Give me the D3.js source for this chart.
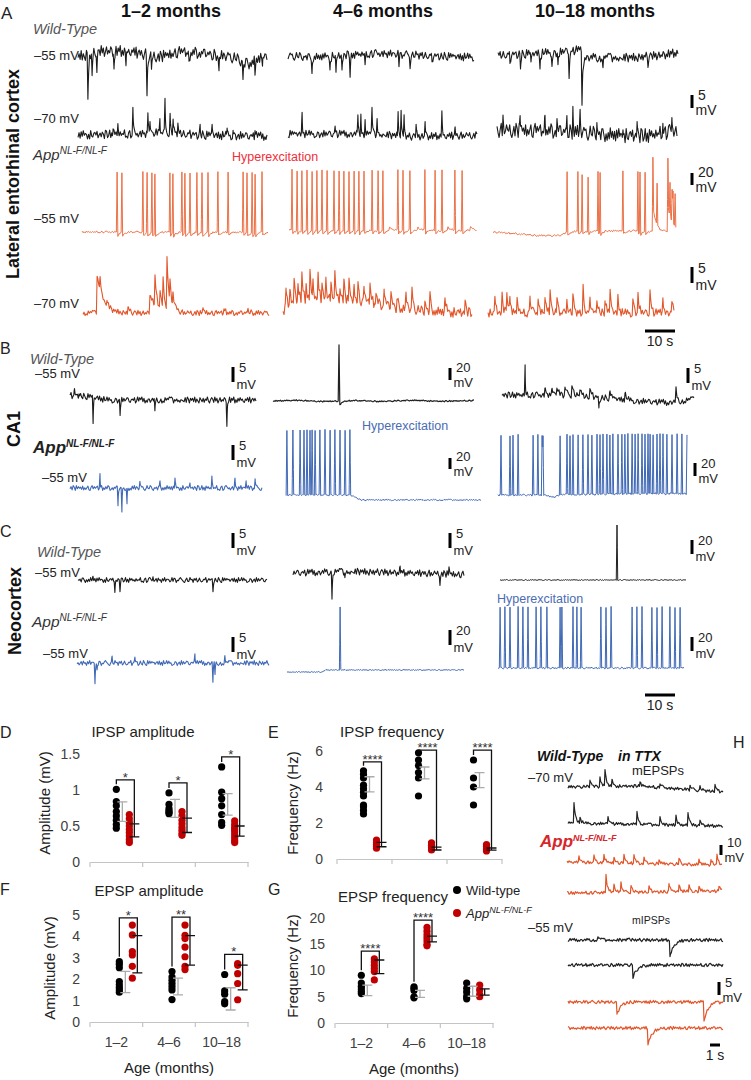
<!DOCTYPE html>
<html><head><meta charset="utf-8">
<script src="https://cdn.jsdelivr.net/npm/d3@7/dist/d3.min.js"></script>
<style>html,body{margin:0;padding:0;background:#fff}svg{display:block}</style>
</head><body>
<svg id="fig" width="751" height="1080"></svg>
<script>
// ================= DATA =================
const ageGroups = ["1–2", "4–6", "10–18"];
const columnTitles = ["1–2 months", "4–6 months", "10–18 months"];
const genotypeSup = "NL-F/NL-F";

// D: IPSP amplitude (mV)
const ipspAmpWT  = [[1.01,0.84,0.78,0.7,0.64,0.58,0.52,0.47],[0.96,0.8,0.74,0.71,0.69,0.67],[1.32,0.97,0.88,0.78,0.66,0.55,0.51]];
const ipspAmpApp = [[0.66,0.6,0.55,0.5,0.45,0.41,0.36,0.31,0.27],[0.7,0.64,0.58,0.53,0.48,0.44,0.4,0.37],[0.57,0.52,0.48,0.45,0.42,0.38,0.34,0.3,0.27]];
const ipspAmpWTbar  = [[0.7,0.135],[0.745,0.125],[0.8,0.15]];   // [mean, sd]
const ipspAmpAppbar = [[0.44,0.09],[0.51,0.1],[0.43,0.07]];
const ipspAmpSig = [["*",1.14],["*",1.1],["*",1.46]];
const ticksD = [0,0.5,1,1.5];

// E: IPSP frequency (Hz)
const ipspFreqWT  = [[4.9,4.7,4.5,4.1,3.9,3.7,3.5,3.0,2.9,2.7,2.5],[5.9,5.5,5.2,4.8,4.5,3.5],[5.5,4.5,4.0,3.0]];
const ipspFreqApp = [[1.05,0.9,0.8,0.7,0.6],[0.9,0.75,0.62,0.5],[0.8,0.7,0.55,0.45]];
const ipspFreqWTbar  = [[4.15,0.42],[4.78,0.33],[4.38,0.42]];
const ipspFreqAppbar = [[0.8,0.12],[0.58,0.08],[0.55,0.06]];
const ipspFreqSig = [["****",5.4],["****",6.05],["****",6.05]];
const ticksE = [0,2,4,6];

// F: EPSP amplitude (mV)
const epspAmpWT  = [[2.82,2.7,2.54,1.89,1.74,1.61,1.5,1.39],[2.36,2.1,1.95,1.8,1.65,1.5,1.05],[2.22,1.45,1.3,0.95,0.85]];
const epspAmpApp = [[4.53,4.07,3.29,3.13,2.6,2.05],[4.53,4.05,3.9,3.5,3.05,2.6,2.45],[2.73,2.65,2.26,1.8,1.04]];
const epspAmpWTbar  = [[1.87,0.5],[1.66,0.39],[1.08,0.52]];
const epspAmpAppbar = [[3.17,0.87],[3.35,0.69],[2.08,0.58]];
const epspAmpSig = [["*",4.87],["**",4.9],["*",3.16]];
const ticksF = [0,1,2,3,4,5];

// G: EPSP frequency (Hz)
const epspFreqWT  = [[9.1,7.6,7.0,6.5,6.0,5.6],[6.9,6.6,6.2,5.0,4.8],[7.6,6.6,5.9,5.1,4.6]];
const epspFreqApp = [[12.2,11.6,11.0,10.4,9.8,8.2],[18.2,17.5,16.8,16.2,15.6,15.0,14.7],[7.2,6.3,5.4,5.0]];
const epspFreqWTbar  = [[6.2,1.0],[5.55,0.65],[6.05,0.95]];
const epspFreqAppbar = [[10.7,1.3],[16.0,0.55],[5.9,0.6]];
const epspFreqSig = [["****",13.7],["****",19.6],null];
const ticksG = [0,5,10,15,20];

// ---- recordings: events [time s, mV, decay s (0 = spike), afterhyperpolarisation mV], slow drift [t, mV], noise texture [start, mV p-p] ----
const noiseTex = [
 "4729163085271649305861937048253860529174905173846216482905737305916248548203719609374628152581069374681439052739702516488236475019",
 "6041839275158672039439720546188405162937271839465050932674814627509813916084735273549120680289635147184507392665139287043796410582",
 "2956074813831265904746702831951093847562572816093493845012760461927358721564803938592704166147395820260318475989705362415432819607"
];
const spikes = (times, amp, ahp) => times.map(t => [t, amp, 0, ahp || 0]);

const aWT55 = [
 {dur:63, nz:[0,4.2], drift:[[0,0],[7,2.3],[17,2.3],[27,0],[34,2],[41,1.5],[51,0],[57,-2.5],[63,1]],
  ev:[[3.3,-17,0.25],[4.7,-9,0.2],[6.3,-8,0.2],[12,-7,0.2],[16,-6,0.2],[23,-15,0.25],[24.5,-6,0.2],[37,-5,0.2],[47,-6,0.2],[55,-7,0.2],[59,-6,0.2],[61.5,-5,0.2]]},
 {dur:62, nz:[140,3], drift:[[0,0],[10,-0.5],[20,0.5],[30,1],[40,0.5],[50,0],[62,-0.5]],
  ev:[[8,-6,0.2],[14,-5,0.2],[16,-7,0.2],[18,-6,0.2],[20.7,-8,0.2],[25.7,-4,0.2],[37,-4,0.2],[40.7,-4,0.2],[48,-3,0.2]]},
 {dur:60, nz:[265,3.3], drift:[[0,0],[20,1],[27,2],[30,-1],[45,-1],[55,0],[60,1]],
  ev:[[4,-4,0.2],[7.5,-5,0.2],[11,-4,0.2],[14,-6,0.2],[18,-4,0.2],[20,-5,0.2],[23.7,-9.5,0.25],[28,-20,0.3],[35,-3,0.2],[50,-3,0.2]]}
];
const aWT70 = [
 {dur:63, nz:[170,3.2], drift:[[0,0],[20,0.5],[30,1],[40,0],[63,-0.5]],
  ev:[[11.7,3,0.15],[13.3,4,0.15],[18.3,9,0.15],[23.3,8,0.15],[24,5,0.15],[27.3,6,0.15],[29,12,0.15],[30.7,7,0.15],[31.7,6,0.15],[33.3,4,0.15],[40.7,4,0.15],[44.7,4,0.15],[49.7,3,0.15],[51.7,3,0.15],[59,3,0.15]]},
 {dur:63, nz:[290,2.8], drift:[[0,0],[30,0],[40,-1],[63,-0.5]],
  ev:[[4.7,8,0.15],[15.7,3,0.15],[23.3,7,0.15],[24.3,9,0.15],[25.7,6,0.15],[28,9,0.15],[29.7,6,0.15],[36.7,10,0.15],[37.7,11,0.15],[38.7,9,0.15],[42.7,5,0.15],[45.7,6,0.15],[51.3,9,0.15],[55.7,3,0.15]]},
 {dur:60, nz:[60,5.5], drift:[[0,1],[15,1],[30,0],[40,-1],[50,-1],[60,1]],
  ev:[[2,6,0.15],[7.7,6,0.15],[16,5,0.15],[20,5,0.15],[23.3,6,0.15],[25.3,11,0.15],[27.7,8,0.15],[33.3,6,0.15],[42,5,0.15],[46.7,6,0.15],[55.3,6,0.15],[58.3,6,0.15]]}
];
const aApp55 = [
 {dur:62, nz:[200,3], drift:[[0,0],[62,0]],
  ev: spikes([11.7,13.3,20.3,21.7,23.3,24.3,29.3,30.3,33.3,34.3,36,38.3,40,42,45.3,48.7,53.7,55,56.7,57.7,60],100,6)},
 {dur:62.5, nz:[340,3], drift:[[0,0],[62.5,0]],
  ev: spikes([1,2.7,4.3,6,7.7,9.3,11,12.7,15,16.7,18.3,20,21.7,23.3,25,27.7,29.7,31.3,36.3,38,40.3,45.3,48.7,51,55.3,57.7],100,6)
      .concat([[33.5,5,0.8],[43,5,0.8],[53,5,0.8],[60.5,6,0.8]])},
 {dur:61, nz:[90,3], drift:[[0,0],[8,-3],[15,-6],[22,-6],[25,0],[30,2],[50,2],[61,0]],
  ev:[[24.7,100,0,5],[28.3,100,0,5],[29.7,95,0,5],[31.7,90,0,5],[35,100,0,5],[35.7,100,0,5],[43.3,100,0,5],[48.3,100,0,5],[49,100,0,5],[50.7,100,0,5],
      [53.3,100,0,0],[53.4,40,1.0],[54.7,70,0,0],[58.3,100,0,0],[58.4,40,1.5],[59,55,0,0],[59.7,55,0,0],[60,55,0,0],[60.7,55,0,0]]}
];
const aApp70 = [
 {dur:62, nz:[360,1.6], drift:[[0,0],[62,0]],
  ev:[[4.7,12,2.0],[5.7,4,0.5],[8,2,0.5],[15,2,0.5],[22.3,6,2.0],[24,9,0.6],[25.7,6,0.6],[26.7,9,0.5],[28,17,0.6],[29,7,0.6],[30,4,1.0],[40,1.5,0.5],[47,1.5,0.5],[55,1.5,0.5]]},
 {dur:63, nz:[20,3], drift:[[0,0],[1,2],[5,4],[18,4],[30,3],[38,1.5],[48,0.5],[63,0]],
  ev:[[1,6,0.4],[2.3,4,0.4],[3.7,7,0.4],[5,5,0.4],[6.3,8,0.4],[7.7,5,0.4],[9,9,0.4],[10,6,0.4],[11.7,8,0.4],[13,5,0.4],[14.3,7,0.4],[16,6,0.4],[17.3,8,0.4],[19,5,0.4],[20.3,6,0.4],[22,7,0.4],[23.7,5,0.4],[25,6,0.4],[27,5,0.4],[29,7,0.4],[31,4,0.4],[33.7,6,0.4],[36,5,0.4],[38,4,0.4],[41,5,0.4],[43,6,0.4],[47.3,4,0.4],[49,5,0.4],[54,4,0.4],[60.7,4,0.4]]},
 {dur:62, nz:[180,2.5], drift:[[0,0],[62,0]],
  ev:[[2.3,5,0.4],[4.7,6,0.4],[6.3,7,0.4],[7.3,5,0.4],[9.7,5,0.4],[14,6,0.4],[16.7,5,0.4],[19,6,0.4],[20.7,7,0.4],[23,5,0.4],[26.3,5,0.4],[28.3,6,0.4],[31.7,8,0.4],[34,5,0.4],[36.3,5,0.4],[39,5,0.4],[40.7,7,0.4],[43.3,5,0.4],[48.3,5,0.4],[50,6,0.4],[54,7,0.4],[58.3,5,0.4],[61.3,4,0.4]]}
];
const ca1WT = [
 {dur:62, nz:[275,2], drift:[[0,1.5],[8,1],[12,0],[62,0]],
  ev:[[7.7,-9,0.15],[16.7,-5,0.15],[28.3,-4.3,0.15],[52.3,-8.3,0.15],[1.5,2,0.2],[3,1.5,0.2]]},
 {dur:67, nz:[33,2], drift:[[0,0],[8,1.2],[16,-0.8],[28,0.8],[36,-0.8],[46,1.2],[56,-0.5],[67,0.8]],
  ev:[[22,93,0,0],[22.3,-7,0.8]]},
 {dur:64, nz:[190,2], drift:[[0,1],[20,1],[35,0],[45,-1],[55,-1.5],[64,-0.5]],
  ev:[[7.7,10,0.1],[14.3,2,0.5],[16.7,2,0.5],[18.3,3,0.5],[21,3,0.5],[23.3,4,0.5],[26,3,0.5],[29.3,3,0.5],[32.3,-4,0.2],[36,2,0.5],[41,2,0.5],[58,4,0.3]]}
];
const ca1App = [
 {dur:64, nz:[75,1.6], drift:[[0,0],[64,0]],
  ev:[[10,5,0.1],[16,-6,0.12],[17.3,-8,0.12],[19,-6,0.12],[23.3,2,0.15],[30,2,0.15],[35,3,0.15],[40,2,0.15],[47.3,4,0.15],[55,3,0.15],[58.7,3,0.15],[61.7,3,0.15]]},
 {dur:65, nz:[215,2.5], drift:[[0,0],[21.5,0],[25,-9],[65,-9]],
  ev: spikes([0.3,2.3,4.7,6,7,8,8.7,9.7,11.3,13,14.7,16.3,18,19.7,21.3],118)},
 {dur:63, nz:[305,3], drift:[[0,0],[16,0],[18,-4],[20,0],[30,1],[45,2],[63,2]],
  ev: spikes([1,4,5,6.7,11.7,13.3,14.7,15,20.7,23,24,25,26.7,28.3,30,31.3,33,34,35,36.3,37.3,38.3,40,41.3,42.3,43.3,44.7,45.7,46.7,48,49,50,50.7,51.7,53,54,55,56.3,58,59.7,61.3,63],92)}
];
const neoWT = [
 {dur:63, nz:[155,1.6], drift:[[0,0],[63,0]], ev:[[12.3,-4,0.15],[14,-3.3,0.15],[45,-3.3,0.15],[5,1,0.2],[25,1,0.2]]},
 {dur:57, nz:[325,2.2], drift:[[0,0],[20,0.5],[40,0],[57,-0.5]], ev:[[13,-8,0.15],[17.3,-2,0.15],[35.7,2,0.2],[49,-3,0.15],[52,2,0.2]]},
 {dur:62, nz:[105,1.4], drift:[[0,0],[62,0]], ev:[[39,79,0,0]]}
];
const neoApp = [
 {dur:64, nz:[225,1.6], drift:[[0,0],[64,0]],
  ev:[[6,-6.3,0.15],[6.7,-3,0.15],[11.7,2,0.15],[19.3,2,0.15],[39.3,3.5,0.15],[45.3,-6.3,0.15],[46,-4,0.15],[49.3,2,0.15]]},
 {dur:59, nz:[375,1.4], drift:[[0,0],[12,0],[12.7,2.7],[59,2.7]], ev:[[17.7,84,0,0]]},
 {dur:62, nz:[12,2.5], drift:[[0,0],[62,0]],
  ev: spikes([0.7,2.3,4,6.7,8.3,10,12.7,14.3,16.3,20.7,21.3,25,26.3,27.7,34.3,36,37.7,44.7,46.3,48,51.3,53,54.7,57.3,59,60.7],87)}
];
// H: TTX recordings (15.5 s)
const mEPSP = [
 {dur:15.5, nz:[133,3], drift:[[0,0],[7,1],[15.5,-5]], ev:[[2.2,8,0.15],[3.2,10,0.15],[3.7,17,0.15],[4.4,6,0.15],[7.2,5,0.15],[9.2,5,0.15],[12.2,5,0.15],[13.2,4,0.15],[14.7,8,0.15]]},
 {dur:15.5, nz:[293,3], drift:[[0,0],[15.5,-3]], ev:[[0.6,21,0.15],[1.2,6,0.15],[4,8,0.15],[6.9,14,0.15],[9.2,8,0.15],[10.8,10,0.15],[12,14,0.15],[13.2,6,0.15]]},
 {dur:15.5, nz:[44,3], drift:[[0,0],[15.5,-3]], ev:[[1.2,6,0.15],[2.7,7,0.15],[3.7,8,0.15],[4.7,6,0.15],[5.7,8,0.15],[6.7,9,0.15],[7.7,6,0.15],[9.2,5,0.15],[11.2,6,0.15],[13.2,5,0.15],[14.4,6,0.15],[15,10,0.15]]},
 {dur:15.5, nz:[196,3], drift:[[0,0],[15.5,2]], ev:[[3.9,18,0.15],[4.7,8,0.15],[5.4,10,0.15],[6.4,7,0.15],[8.2,6,0.15],[10.2,8,0.15],[11.2,7,0.15],[12.2,6,0.15],[13.2,5,0.15],[15.2,5,0.15]]}
];
const mIPSP = [
 {dur:15.5, nz:[337,1.2], drift:[[0,0],[15.5,0]], ev:[[10.2,-6.5,0.4],[3,1,0.2],[6,1,0.2]]},
 {dur:15.5, nz:[88,1.2], drift:[[0,0],[15.5,0]], ev:[[6.5,-5,0.4]]},
 {dur:15.5, nz:[229,1.2], drift:[[0,0],[15.5,0]], ev:[[4.9,-5,0.35],[13.6,-7,0.4]]},
 {dur:15.5, nz:[371,1.2], drift:[[0,0],[15.5,0]], ev:[[8,-6.5,0.4]]}
];

// ================= DRAWING =================
const svg = d3.select("#fig");
const FONT = "'Liberation Sans', Arial, Helvetica, sans-serif";
const C = {wt:"#1c1c1c", or:"#e2562a", orL:"#ea6a3e", bl:"#4069b6", red:"#c00000"};
const TEX = noiseTex.join("");

function txt(x, y, s, o) {
  o = o || {};
  const t = svg.append("text").attr("x", x).attr("y", y).text(s)
    .attr("font-family", FONT).attr("font-size", o.size || 13).attr("fill", o.fill || "#222");
  if (o.anchor) t.attr("text-anchor", o.anchor);
  if (o.weight) t.attr("font-weight", o.weight);
  if (o.style) t.attr("font-style", o.style);
  if (o.rotate) t.attr("transform", `rotate(-90,${x},${y})`);
  return t;
}
function appLabel(x, y, size, sup, o) {
  o = o || {};
  const t = svg.append("text").attr("x", x).attr("y", y).attr("font-family", FONT)
    .attr("font-style", "italic").attr("font-size", size).attr("fill", o.fill || "#222");
  if (o.weight) t.attr("font-weight", o.weight);
  t.append("tspan").text("App");
  t.append("tspan").attr("font-size", sup).attr("dy", -size * 0.38).text(genotypeSup);
}

function traceValues(s, perSec) {
  const start = s.nz[0], amp = s.nz[1], L = TEX.length;
  const N = Math.round(s.dur * perSec);
  const nzv = i => (+TEX[(start + i) % L] - 4.5) / 9 * amp;
  const noiseAt = t => { const f = t / s.dur * (N - 1); const i = Math.max(0, Math.min(N - 2, Math.floor(f))); const r = f - i; return nzv(i) * (1 - r) + nzv(i + 1) * r; };
  const drift = d3.scaleLinear().domain(s.drift.map(d => d[0])).range(s.drift.map(d => d[1])).clamp(true);
  const dl = s.dur / 250;
  const ts = d3.range(N).map(i => i * s.dur / (N - 1));
  s.ev.forEach(e => {
    ts.push(e[0] - dl, e[0], e[0] + dl);
    if (e[2] > 0) ts.push(e[0] + e[2] * 0.5, e[0] + e[2], e[0] + e[2] * 2);
    if (e[3]) ts.push(e[0] + 0.4, e[0] + 1.0);
  });
  const times = Array.from(new Set(ts.filter(t => t >= 0 && t <= s.dur).map(t => +t.toFixed(4)))).sort((a, b) => a - b);
  return times.map(t => {
    let v = drift(t) + noiseAt(t);
    for (const e of s.ev) {
      const t0 = e[0], a = e[1], tau = e[2], ahp = e[3] || 0;
      if (tau === 0) {
        v += a * Math.max(0, 1 - Math.abs(t - t0) / dl);
        if (ahp && t > t0) v -= ahp * Math.min(1, (t - t0) / dl) * Math.exp(-Math.max(0, t - t0 - dl) / 0.8);
      } else if (t >= t0 - dl) {
        v += t < t0 ? a * (t - t0 + dl) / dl : a * Math.exp(-(t - t0) / tau);
      }
    }
    return [t, v];
  });
}
function drawTrace(s, lay) {
  const x = d3.scaleLinear().domain([0, s.dur]).range([lay.x, lay.x + s.dur * lay.pps]);
  const y = d3.scaleLinear().domain([0, 1]).range([lay.y, lay.y - lay.k]);
  const line = d3.line().x(d => x(d[0])).y(d => y(d[1]));
  svg.append("path").attr("d", line(traceValues(s, lay.pps / 1.05))).attr("fill", "none")
    .attr("stroke", lay.c).attr("stroke-width", lay.w).attr("stroke-linejoin", "round");
}
function vBar(x, yb, mv, k, size) {
  const y = d3.scaleLinear().domain([0, 1]).range([yb, yb - k]);
  svg.append("line").attr("x1", x).attr("x2", x).attr("y1", y(0)).attr("y2", y(mv)).attr("stroke", "#000").attr("stroke-width", 3);
  const mvB = y(0) + size * 0.5;
  const valB = Math.min(y(mv) + size * 0.42, mvB - size * 1.08);
  txt(x + 6, valB, String(mv), {size: size});
  txt(x + 3.5, mvB, "mV", {size: size});
}
function tBar(x, yy, s, pps, label) {
  const xs = d3.scaleLinear().domain([0, s]).range([x, x + s * pps]);
  svg.append("line").attr("x1", xs(0)).attr("x2", xs(s)).attr("y1", yy).attr("y2", yy).attr("stroke", "#000").attr("stroke-width", 3);
  txt((xs(0) + xs(s)) / 2, yy + 15, label, {size: 14, anchor: "middle"});
}

// ---- panel A ----
txt(1, 19, "A", {size: 17});
[171, 383, 595].forEach((cx, i) => txt(cx, 17, columnTitles[i], {size: 18, weight: "bold", anchor: "middle", fill: "#111"}));
txt(19, 174, "Lateral entorhinal cortex", {size: 18, weight: "bold", anchor: "middle", rotate: true, fill: "#111"});
txt(33, 34, "Wild-Type", {size: 14.5, style: "italic", fill: "#555"});
txt(34, 60, "–55 mV", {size: 13});
txt(34, 123, "–70 mV", {size: 13});
appLabel(33, 160, 15, 10, {fill: "#333"});
txt(232, 161, "Hyperexcitation", {size: 12.5, fill: "#ef2f3a"});
txt(34, 223, "–55 mV", {size: 13});
txt(34, 308, "–70 mV", {size: 13});

const P3 = 3; // px per second in panels A–C
[[78,57],[288,56],[498,55]].forEach((p, i) => drawTrace(aWT55[i], {x: p[0], y: p[1], k: 2.6, pps: P3, c: C.wt, w: 1.1}));
[[78,135],[288,134],[497,133]].forEach((p, i) => drawTrace(aWT70[i], {x: p[0], y: p[1], k: 2.6, pps: P3, c: C.wt, w: 1.1}));
[[82,232],[289,230],[493,232]].forEach((p, i) => drawTrace(aApp55[i], {x: p[0], y: p[1], k: 0.6, pps: P3, c: C.orL, w: 0.95}));
[[83,313],[283,313],[488,313]].forEach((p, i) => drawTrace(aApp70[i], {x: p[0], y: p[1], k: 3.2, pps: P3, c: C.or, w: 1.1}));
vBar(692, 108, 5, 2.6, 14);
vBar(692, 185, 20, 0.6, 14);
vBar(692, 283, 5, 3.2, 14);
tBar(645, 331, 10, P3, "10 s");

// ---- panel B ----
txt(0, 354, "B", {size: 16});
txt(20, 429, "CA1", {size: 18, weight: "bold", anchor: "middle", rotate: true, fill: "#111"});
txt(30, 364, "Wild-Type", {size: 14.5, style: "italic", fill: "#555"});
txt(35, 378, "–55 mV", {size: 13});
appLabel(33, 453, 17, 10, {weight: "bold", fill: "#222"});
txt(42, 482, "–55 mV", {size: 13});
txt(362, 430, "Hyperexcitation", {size: 12.5, fill: "#4a6cb3"});
drawTrace(ca1WT[0], {x: 70, y: 400, k: 3, pps: P3, c: C.wt, w: 1.1});
drawTrace(ca1WT[1], {x: 273, y: 401, k: 0.6, pps: P3, c: "#222", w: 1.2});
drawTrace(ca1WT[2], {x: 502, y: 398, k: 3, pps: P3, c: C.wt, w: 1.1});
drawTrace(ca1App[0], {x: 70, y: 488, k: 3, pps: P3, c: C.bl, w: 1.1});
drawTrace(ca1App[1], {x: 286, y: 495, k: 0.55, pps: P3, c: C.bl, w: 1});
drawTrace(ca1App[2], {x: 498, y: 495, k: 0.65, pps: P3, c: C.bl, w: 1});
vBar(233, 382, 5, 3, 13);
vBar(450, 380, 20, 0.6, 13);
vBar(688, 383, 5, 3, 13);
vBar(233, 460, 5, 3, 13);
vBar(450, 469, 20, 0.55, 13);
vBar(695, 476, 20, 0.65, 13);

// ---- panel C ----
txt(0, 537, "C", {size: 16});
txt(21, 611, "Neocortex", {size: 18, weight: "bold", anchor: "middle", rotate: true, fill: "#111"});
txt(37, 557, "Wild-Type", {size: 14.5, style: "italic", fill: "#555"});
txt(35, 577, "–55 mV", {size: 13});
appLabel(32, 627, 15.5, 10, {fill: "#333"});
txt(43, 658, "–55 mV", {size: 13});
txt(497, 603, "Hyperexcitation", {size: 12.5, fill: "#4a6cb3"});
drawTrace(neoWT[0], {x: 78, y: 580, k: 3, pps: P3, c: C.wt, w: 1.1});
drawTrace(neoWT[1], {x: 293, y: 573, k: 3, pps: P3, c: C.wt, w: 1.1});
drawTrace(neoWT[2], {x: 500, y: 580, k: 0.7, pps: P3, c: "#222", w: 1});
drawTrace(neoApp[0], {x: 77, y: 663, k: 3, pps: P3, c: C.bl, w: 1.1});
drawTrace(neoApp[1], {x: 287, y: 672, k: 0.75, pps: P3, c: C.bl, w: 1});
drawTrace(neoApp[2], {x: 498, y: 668, k: 0.7, pps: P3, c: C.bl, w: 1});
vBar(233, 548, 5, 3, 13);
vBar(450, 548, 5, 3, 13);
vBar(692, 554, 20, 0.7, 13);
vBar(233, 652, 5, 3, 13);
vBar(450, 645, 20, 0.75, 13);
vBar(692, 651, 20, 0.7, 13);
tBar(645, 695, 10, P3, "10 s");

// ---- panel H ----
txt(733, 748, "H", {size: 16});
txt(537, 761, "Wild-Type", {size: 14, weight: "bold", style: "italic", fill: "#111"});
txt(618, 761, "in TTX", {size: 14, weight: "bold", style: "italic", fill: "#111"});
txt(528, 782, "–70 mV", {size: 13});
txt(632, 775, "mEPSPs", {size: 13});
appLabel(540, 847, 17, 9, {weight: "bold", fill: "#d6262b"});
txt(632, 924, "mIPSPs", {size: 10.5});
txt(528, 932, "–55 mV", {size: 13});
const PH = 10; // px per second in H
[787, 823].forEach((yb, i) => drawTrace(mEPSP[i], {x: 568, y: yb, k: 1, pps: PH, c: "#222", w: 1.2}));
[862, 893].forEach((yb, i) => drawTrace(mEPSP[i + 2], {x: 567, y: yb, k: 1, pps: PH, c: C.or, w: 1.2}));
[940, 965].forEach((yb, i) => drawTrace(mIPSP[i], {x: 568, y: yb, k: 2.6, pps: PH, c: "#222", w: 1.2}));
[1002, 1028].forEach((yb, i) => drawTrace(mIPSP[i + 2], {x: 568, y: yb, k: 2.6, pps: PH, c: C.or, w: 1.2}));
vBar(721, 855, 10, 1, 13);
vBar(719, 995, 5, 2.6, 13);
tBar(710, 1045, 1, PH, "1 s");

// ---- dot charts D–G ----
function errBar(g, y, x, b, col) {
  const p = d3.path();
  p.moveTo(x, y(b[0] + b[1])); p.lineTo(x, y(b[0] - b[1]));
  p.moveTo(x - 5, y(b[0] + b[1])); p.lineTo(x + 5, y(b[0] + b[1]));
  p.moveTo(x - 5, y(b[0] - b[1])); p.lineTo(x + 5, y(b[0] - b[1]));
  g.append("path").attr("d", p.toString()).attr("fill", "none").attr("stroke", col).attr("stroke-width", 1.3);
}
function drawChart(c) {
  const x = d3.scaleBand().domain(ageGroups).range([c.x0, c.x1]);
  const y = d3.scaleLinear().domain([0, d3.max(c.ticks)]).range([c.y0, c.yTop]);
  const g = svg.append("g");
  const ya = g.append("g").attr("transform", `translate(${c.x0},0)`)
    .call(d3.axisLeft(y).tickValues(c.ticks).tickSize(0).tickPadding(c.pad).tickFormat(d => String(d)));
  ya.select(".domain").remove();
  ya.selectAll("text").attr("font-size", 14).attr("font-family", FONT).attr("fill", "#404040");
  const xa = g.append("g").attr("transform", `translate(0,${c.y0})`)
    .call(d3.axisBottom(x).tickSize(0).tickPadding(15).tickFormat(c.xLabels ? (d => d) : (() => "")));
  xa.select(".domain").attr("stroke", "#c4c4c4").attr("stroke-width", 1.2);
  xa.selectAll("text").attr("font-size", 14).attr("font-family", FONT).attr("fill", "#404040");
  g.selectAll(null).data(ageGroups.map(a => x(a)).concat([c.x1])).join("line")
    .attr("x1", d => d).attr("x2", d => d).attr("y1", c.y0).attr("y2", c.y0 + 5)
    .attr("stroke", "#c4c4c4").attr("stroke-width", 1.2);
  ageGroups.forEach((a, i) => {
    const cx = x(a) + x.bandwidth() / 2;
    const xw = cx + c.off[0], xp = cx + c.off[1];
    g.selectAll(null).data(c.wt[i]).join("circle").attr("cx", xw).attr("cy", d => y(d)).attr("r", 3.6).attr("fill", "#000");
    g.selectAll(null).data(c.app[i]).join("circle").attr("cx", xp).attr("cy", d => y(d)).attr("r", 3.6).attr("fill", C.red);
    errBar(g, y, xw + 6, c.wtBar[i], "#ababab");
    errBar(g, y, xp + 5, c.appBar[i], "#111");
    const s = c.sig[i];
    if (s) {
      const xl = xw, xr = xp + 5, yt = y(s[1]);
      const p = d3.path();
      p.moveTo(xl, Math.max(yt, y(d3.max(c.wt[i])) - 5)); p.lineTo(xl, yt); p.lineTo(xr, yt);
      p.lineTo(xr, y(c.appBar[i][0] + c.appBar[i][1]));
      g.append("path").attr("d", p.toString()).attr("fill", "none").attr("stroke", "#111").attr("stroke-width", 1.3);
      g.append("text").attr("x", (xl + xr) / 2).attr("y", yt + 2).attr("text-anchor", "middle")
        .attr("font-family", FONT).attr("font-size", 13).attr("fill", "#333").text(s[0]);
    }
  });
  txt(c.tx, c.ty, c.title, {size: 15, anchor: "middle"});
  txt(c.ylx, c.yly, c.ylab, {size: 15, anchor: "middle", rotate: true});
  if (c.xLabels) txt((c.x0 + c.x1) / 2, c.y0 + 51, "Age (months)", {size: 15, anchor: "middle"});
  txt(c.lx, c.ly, c.letter, {size: 16});
}
drawChart({wt: ipspAmpWT, app: ipspAmpApp, wtBar: ipspAmpWTbar, appBar: ipspAmpAppbar, sig: ipspAmpSig, ticks: ticksD,
  x0: 90, x1: 248, y0: 862, yTop: 754, pad: 10, off: [0, 13], xLabels: false,
  title: "IPSP amplitude", tx: 143, ty: 737, ylab: "Amplitude (mV)", ylx: 50, yly: 803, letter: "D", lx: 0, ly: 738});
drawChart({wt: ipspFreqWT, app: ipspFreqApp, wtBar: ipspFreqWTbar, appBar: ipspFreqAppbar, sig: ipspFreqSig, ticks: ticksE,
  x0: 337, x1: 502, y0: 859, yTop: 751, pad: 14, off: [-1, 12], xLabels: false,
  title: "IPSP frequency", tx: 392, ty: 737, ylab: "Frequency (Hz)", ylx: 298, yly: 803, letter: "E", lx: 268, ly: 738});
drawChart({wt: epspAmpWT, app: epspAmpApp, wtBar: epspAmpWTbar, appBar: epspAmpAppbar, sig: epspAmpSig, ticks: ticksF,
  x0: 90, x1: 248, y0: 1022, yTop: 915, pad: 10, off: [3, 16], xLabels: true,
  title: "EPSP amplitude", tx: 149, ty: 896, ylab: "Amplitude (mV)", ylx: 55, yly: 968, letter: "F", lx: 0, ly: 895});
drawChart({wt: epspFreqWT, app: epspFreqApp, wtBar: epspFreqWTbar, appBar: epspFreqAppbar, sig: epspFreqSig, ticks: ticksG,
  x0: 335, x1: 493, y0: 1023, yTop: 918, pad: 10, off: [0, 13], xLabels: true,
  title: "EPSP frequency", tx: 393, ty: 902, ylab: "Frequency (Hz)", ylx: 298, yly: 966, letter: "G", lx: 268, ly: 895});

// legend
svg.append("circle").attr("cx", 457).attr("cy", 890).attr("r", 4).attr("fill", "#000");
txt(466, 894.5, "Wild-type", {size: 13});
svg.append("circle").attr("cx", 457).attr("cy", 913).attr("r", 4).attr("fill", C.red);
appLabel(466, 917.5, 13, 9, {fill: "#222"});
</script>
</body></html>
